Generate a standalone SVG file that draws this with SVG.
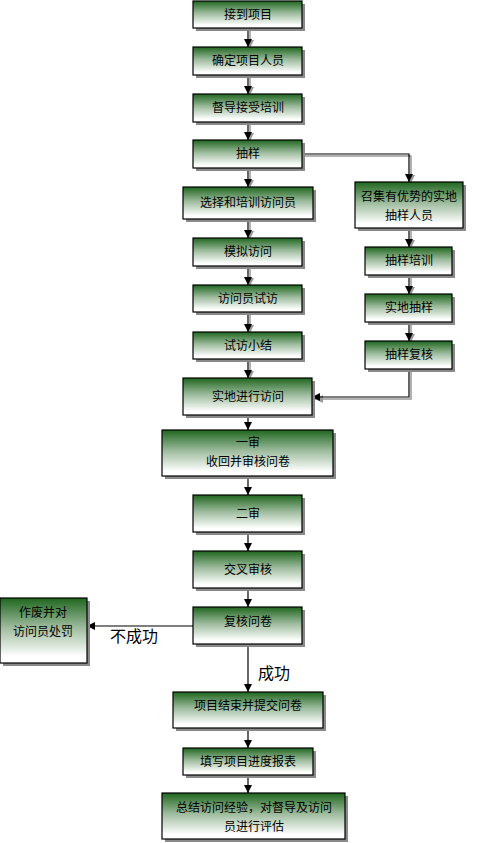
<svg xmlns="http://www.w3.org/2000/svg" width="485" height="843" viewBox="0 0 485 843">
<defs>
<linearGradient id="g" x1="0" y1="0" x2="0" y2="1">
<stop offset="0" stop-color="#1f661f"/>
<stop offset="0.45" stop-color="#9dbb9d"/>
<stop offset="0.9" stop-color="#ffffff"/>
</linearGradient>
<marker id="ah" markerWidth="10" markerHeight="10" refX="9" refY="5" orient="auto" markerUnits="userSpaceOnUse">
<path d="M1,1 L9,5 L1,9 Z" fill="#000"/>
</marker>
<marker id="ahs" markerWidth="10" markerHeight="10" refX="9" refY="5" orient="auto" markerUnits="userSpaceOnUse">
<path d="M1,1 L9,5 L1,9 Z" fill="#999"/>
</marker>
</defs>
<style>
.sh{fill:#8a8a8a}
.bx{fill:url(#g);stroke:#000;stroke-width:1.2}
.t{font-family:"Noto Sans CJK SC","DejaVu Sans",sans-serif;font-size:12px;fill:#000;text-anchor:middle}
.lb{font-family:"Noto Sans CJK SC","DejaVu Sans",sans-serif;font-size:16px;fill:#000}
.c{fill:none;stroke:#000;stroke-width:1.2;marker-end:url(#ah)}
.cs{fill:none;stroke:#999;stroke-width:1.5;marker-end:url(#ahs)}
</style>
<rect width="485" height="843" fill="#fff"/>
<g id="connectors">
<g transform="translate(2,2)">
<path class="cs" d="M248,28 V46"/>
<path class="cs" d="M248,75 V93"/>
<path class="cs" d="M248,122 V139"/>
<path class="cs" d="M248,168 V186"/>
<path class="cs" d="M248,219 V237"/>
<path class="cs" d="M248,266 V284"/>
<path class="cs" d="M248,312 V331"/>
<path class="cs" d="M248,359 V377"/>
<path class="cs" d="M302,154 H409 V181"/>
<path class="cs" d="M409,228 V246"/>
<path class="cs" d="M409,275 V293"/>
<path class="cs" d="M409,322 V340"/>
<path class="cs" d="M409,369 V397 H313"/>
</g>
<path class="c" d="M248,28 V47"/>
<path class="c" d="M248,75 V94"/>
<path class="c" d="M248,122 V140"/>
<path class="c" d="M248,168 V187"/>
<path class="c" d="M248,219 V238"/>
<path class="c" d="M248,266 V285"/>
<path class="c" d="M248,312 V332"/>
<path class="c" d="M248,359 V378"/>
<path class="c" d="M248,415 V430"/>
<path class="c" d="M248,476 V495"/>
<path class="c" d="M248,532 V551"/>
<path class="c" d="M248,588 V607"/>
<path class="c" d="M248,644 V692"/>
<path class="c" d="M248,728 V748"/>
<path class="c" d="M248,775 V793"/>
<path class="c" d="M302,154 H409 V182"/>
<path class="c" d="M409,228 V247"/>
<path class="c" d="M409,275 V294"/>
<path class="c" d="M409,322 V341"/>
<path class="c" d="M409,369 V397 H312"/>
<path class="c" d="M193,626 H87"/>
<text class="lb" x="110" y="642">不成功</text>
<text class="lb" x="258" y="679">成功</text>
</g>
<g id="n1"><rect class="sh" x="196" y="4" width="109" height="27"/><rect class="bx" x="193" y="1" width="109" height="27"/><text class="t" x="248" y="19">接到项目</text></g>
<g id="n2"><rect class="sh" x="196" y="50" width="109" height="28"/><rect class="bx" x="193" y="47" width="109" height="28"/><text class="t" x="248" y="65">确定项目人员</text></g>
<g id="n3"><rect class="sh" x="196" y="97" width="109" height="28"/><rect class="bx" x="193" y="94" width="109" height="28"/><text class="t" x="248" y="112">督导接受培训</text></g>
<g id="n4"><rect class="sh" x="196" y="143" width="109" height="28"/><rect class="bx" x="193" y="140" width="109" height="28"/><text class="t" x="248" y="158">抽样</text></g>
<g id="n5"><rect class="sh" x="186" y="190" width="130" height="32"/><rect class="bx" x="183" y="187" width="130" height="32"/><text class="t" x="248" y="207">选择和培训访问员</text></g>
<g id="n6"><rect class="sh" x="196" y="241" width="109" height="28"/><rect class="bx" x="193" y="238" width="109" height="28"/><text class="t" x="248" y="256">模拟访问</text></g>
<g id="n7"><rect class="sh" x="196" y="288" width="109" height="27"/><rect class="bx" x="193" y="285" width="109" height="27"/><text class="t" x="248" y="303">访问员试访</text></g>
<g id="n8"><rect class="sh" x="196" y="335" width="109" height="27"/><rect class="bx" x="193" y="332" width="109" height="27"/><text class="t" x="248" y="350">试访小结</text></g>
<g id="n9"><rect class="sh" x="186" y="381" width="129" height="37"/><rect class="bx" x="183" y="378" width="129" height="37"/><text class="t" x="248" y="401">实地进行访问</text></g>
<g id="n10"><rect class="sh" x="165" y="433" width="171" height="46"/><rect class="bx" x="162" y="430" width="171" height="46"/><text class="t" x="248" y="447">一审</text><text class="t" x="248" y="466">收回并审核问卷</text></g>
<g id="n11"><rect class="sh" x="196" y="498" width="109" height="37"/><rect class="bx" x="193" y="495" width="109" height="37"/><text class="t" x="248" y="518">二审</text></g>
<g id="n12"><rect class="sh" x="196" y="554" width="109" height="37"/><rect class="bx" x="193" y="551" width="109" height="37"/><text class="t" x="248" y="574">交叉审核</text></g>
<g id="n13"><rect class="sh" x="196" y="610" width="109" height="37"/><rect class="bx" x="193" y="607" width="109" height="37"/><text class="t" x="248" y="626">复核问卷</text></g>
<g id="n14"><rect class="sh" x="3" y="601" width="87" height="65"/><rect class="bx" x="0" y="598" width="87" height="65"/><text class="t" x="43" y="617">作废并对</text><text class="t" x="43" y="636">访问员处罚</text></g>
<g id="n15"><rect class="sh" x="176" y="695" width="150" height="36"/><rect class="bx" x="173" y="692" width="150" height="36"/><text class="t" x="248" y="710">项目结束并提交问卷</text></g>
<g id="n16"><rect class="sh" x="186" y="751" width="130" height="27"/><rect class="bx" x="183" y="748" width="130" height="27"/><text class="t" x="248" y="766">填写项目进度报表</text></g>
<g id="n17"><rect class="sh" x="165" y="796" width="183" height="46"/><rect class="bx" x="162" y="793" width="183" height="46"/><text class="t" x="254" y="812">总结访问经验，对督导及访问</text><text class="t" x="254" y="831">员进行评估</text></g>
<g id="n18"><rect class="sh" x="358" y="185" width="108" height="46"/><rect class="bx" x="355" y="182" width="108" height="46"/><text class="t" x="409" y="201">召集有优势的实地</text><text class="t" x="409" y="220">抽样人员</text></g>
<g id="n19"><rect class="sh" x="368" y="250" width="87" height="28"/><rect class="bx" x="365" y="247" width="87" height="28"/><text class="t" x="409" y="265">抽样培训</text></g>
<g id="n20"><rect class="sh" x="368" y="297" width="87" height="28"/><rect class="bx" x="365" y="294" width="87" height="28"/><text class="t" x="409" y="312">实地抽样</text></g>
<g id="n21"><rect class="sh" x="368" y="344" width="87" height="28"/><rect class="bx" x="365" y="341" width="87" height="28"/><text class="t" x="409" y="359">抽样复核</text></g>
</svg>
